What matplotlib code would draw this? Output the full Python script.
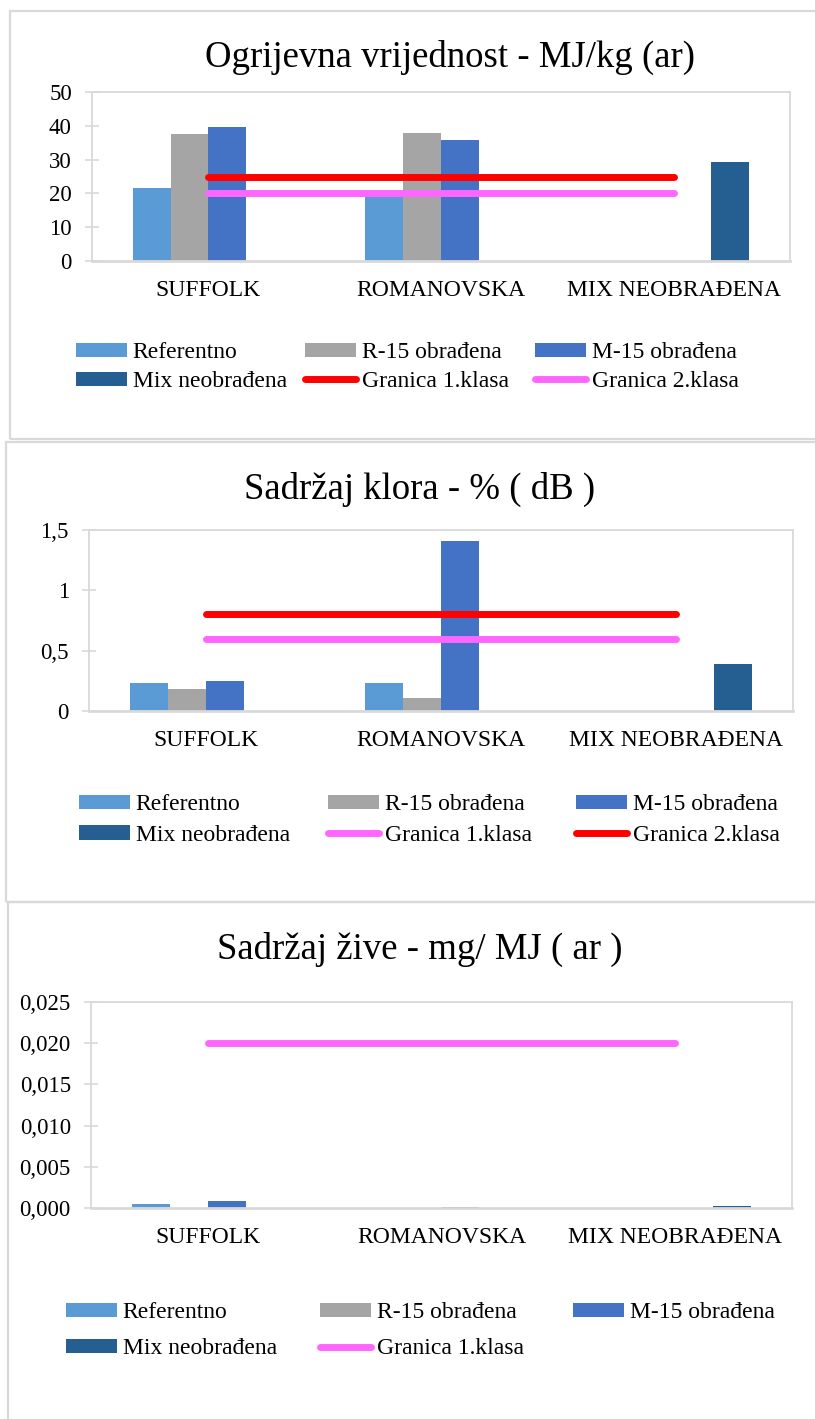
import numpy as np
import matplotlib
matplotlib.use("Agg")
import matplotlib.pyplot as plt
from matplotlib.patches import Rectangle, Patch
from matplotlib.lines import Line2D

plt.rcParams['font.family'] = ['Liberation Serif', 'DejaVu Serif']

# ── Data ──────────────────────────────────────────────────────────────────────
categories = ["SUFFOLK", "ROMANOVSKA", "MIX NEOBRAĐENA"]
series_names = ["Referentno", "R-15 obrađena", "M-15 obrađena", "Mix neobrađena"]
series_colors = ["#5B9BD5", "#A5A5A5", "#4472C4", "#255E91"]

# Ogrijevna vrijednost - MJ/kg (ar)
cv_ref = [21.5, 19.8, 0]
cv_r15 = [37.5, 37.8, 0]
cv_m15 = [39.7, 35.8, 0]
cv_mix = [0, 0, 29.3]
cv_gr1 = [25, 25, 25]
cv_gr2 = [20, 20, 20]
cv_ticks = [0, 10, 20, 30, 40, 50]
cv_ticklabels = ["0", "10", "20", "30", "40", "50"]

# Sadržaj klora - % (dB)
cl_ref = [0.23, 0.23, 0]
cl_r15 = [0.18, 0.11, 0]
cl_m15 = [0.25, 1.41, 0]
cl_mix = [0, 0, 0.39]
cl_gr1 = [0.6, 0.6, 0.6]
cl_gr2 = [0.8, 0.8, 0.8]
cl_ticks = [0, 0.5, 1, 1.5]
cl_ticklabels = ["0", "0,5", "1", "1,5"]

# Sadržaj žive - mg/MJ (ar)
hg_ref = [0.0005, 0.00003, 0]
hg_r15 = [0.00004, 0.00002, 0]
hg_m15 = [0.0008, 0.0001, 0]
hg_mix = [0, 0, 0.0003]
hg_gr1 = [0.02, 0.02, 0.02]
hg_ticks = [0, 0.005, 0.01, 0.015, 0.02, 0.025]
hg_ticklabels = ["0,000", "0,005", "0,010", "0,015", "0,020", "0,025"]

RED = "#FF0000"
PINK = "#FF66FF"
GRID = "#D9D9D9"

# ── Layout helpers (pixel coords measured from top-left) ────────────────────
W, H = 815, 1419
fig = plt.figure(figsize=(W / 100, H / 100), dpi=100)


def fx(x):
    return x / W


def fy(y):
    return 1 - y / H


def frame(x0, y0, x1, y1):
    fig.add_artist(Rectangle((fx(x0), fy(y1)), fx(x1) - fx(x0), fy(y0) - fy(y1),
                             transform=fig.transFigure, fill=False,
                             edgecolor=GRID, linewidth=1.6))


def panel(box, title, title_xy, bars, lines, ticks, ticklabels,
          legend_x, legend_top, legend_spacing):
    left, top, right, bottom = box
    ax = fig.add_axes([fx(left), fy(bottom), fx(right) - fx(left), fy(top) - fy(bottom)])
    x = np.arange(len(categories))
    w = 0.1625
    entries = []
    for i, (vals, name, col) in enumerate(zip(bars, series_names, series_colors)):
        ax.bar(x + (i - 1.5) * w, vals, width=w, color=col, linewidth=0)
        entries.append((Patch(facecolor=col, linewidth=0), name))
    for vals, name, col in lines:
        ax.plot(x, vals, color=col, linewidth=5, solid_capstyle="round")
        entries.append((Line2D([], [], color=col, linewidth=5, solid_capstyle="round"), name))

    ax.set_xlim(-0.5, 2.5)
    ax.set_ylim(ticks[0], ticks[-1])
    ax.set_yticks(ticks)
    ax.set_yticklabels(ticklabels)
    ax.set_xticks(x)
    ax.set_xticklabels(categories)
    ax.tick_params(axis="x", length=0, pad=14, labelsize=17)
    ax.tick_params(axis="y", direction="inout", length=10, width=1.2,
                   color=GRID, pad=9.5, labelsize=16.5)
    for s in ["top", "right", "left"]:
        ax.spines[s].set_color(GRID)
        ax.spines[s].set_linewidth(1.3)
    ax.spines["bottom"].set_color(GRID)
    ax.spines["bottom"].set_linewidth(2)

    fig.text(fx(title_xy[0]), fy(title_xy[1]), title, ha="center", va="center", fontsize=26.5)

    # legend laid out row-wise, one legend per column
    for c in range(3):
        col_entries = entries[c::3]
        fig.legend([e[0] for e in col_entries], [e[1] for e in col_entries],
                   loc="upper left",
                   bbox_to_anchor=(fx(legend_x[c]), fy(legend_top)),
                   bbox_transform=fig.transFigure, frameon=False,
                   fontsize=17, handlelength=2.15, handleheight=0.55,
                   handletextpad=0.25, borderpad=0, borderaxespad=0,
                   labelspacing=legend_spacing)
    return ax


# ── Panel 1: Ogrijevna vrijednost ────────────────────────────────────────────
frame(10, 11, 840, 439)
panel((92, 92, 790, 261), "Ogrijevna vrijednost - MJ/kg (ar)", (450, 57),
      [cv_ref, cv_r15, cv_m15, cv_mix],
      [(cv_gr1, "Granica 1.klasa", RED), (cv_gr2, "Granica 2.klasa", PINK)],
      cv_ticks, cv_ticklabels, [76, 305, 535], 342, 0.34)

# ── Panel 2: Sadržaj klora ───────────────────────────────────────────────────
frame(6, 442, 840, 902)
panel((89, 530, 793, 711), "Sadržaj klora - % ( dB )", (420, 489),
      [cl_ref, cl_r15, cl_m15, cl_mix],
      [(cl_gr1, "Granica 1.klasa", PINK), (cl_gr2, "Granica 2.klasa", RED)],
      cl_ticks, cl_ticklabels, [79, 328, 576], 794, 0.42)

# ── Panel 3: Sadržaj žive ────────────────────────────────────────────────────
frame(8, 902, 840, 1440)
panel((91, 1002, 792, 1208), "Sadržaj žive - mg/ MJ ( ar )", (420, 949),
      [hg_ref, hg_r15, hg_m15, hg_mix],
      [(hg_gr1, "Granica 1.klasa", PINK)],
      hg_ticks, hg_ticklabels, [66, 320, 573], 1302, 0.65)

fig.savefig("out.png", dpi=100)
